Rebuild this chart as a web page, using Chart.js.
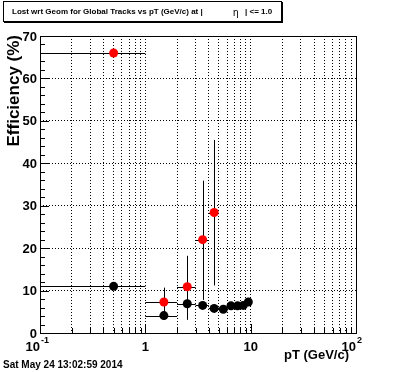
<!DOCTYPE html>
<html>
<head>
<meta charset="utf-8">
<script src="https://cdn.jsdelivr.net/npm/chart.js@4.4.1/dist/chart.umd.min.js"></script>
<style>
  html, body { margin: 0; padding: 0; background: #fff; }
  #wrap { width: 396px; height: 372px; position: relative; }
</style>
</head>
<body>
<div id="wrap"><canvas id="chart" width="396" height="372"></canvas></div>
<script>
// bins in pT (GeV/c)
const binLow = [0, 1, 2, 3, 4, 5, 6, 7, 8, 9];
const binHigh = [1, 2, 3, 4, 5, 6, 7, 8, 9, 10];
const binCenter = [0.5, 1.5, 2.5, 3.5, 4.5, 5.5, 6.5, 7.5, 8.5, 9.5];

// red series (first 5 bins)
const redValues = [66.0, 7.3, 10.9, 22.0, 28.4];
const redErrLow = [66.0, 3.1, 3.1, 7.8, 11.2];
const redErrHigh = [66.0, 10.7, 18.2, 35.9, 45.5];

// black series
const blackValues = [11.0, 4.1, 6.9, 6.5, 5.8, 5.6, 6.4, 6.4, 6.5, 7.3];

const yTicks = [0, 10, 20, 30, 40, 50, 60, 70];
const xDecades = [0.1, 1, 10, 100];

const FONT = '"Liberation Sans", Arial, Helvetica, sans-serif';

function makePoints(vals) {
    return vals.map((v, i) => ({ x: binCenter[i], y: v, i: i }));
}

// error bars + frame + ticks + labels
const rootStyle = {
    id: 'rootStyle',
    beforeDatasetsDraw(chart) {
        const ctx = chart.ctx;
        const xs = chart.scales.x, ys = chart.scales.y;
        const ca = chart.chartArea;
        ctx.save();
        ctx.strokeStyle = '#000';
        ctx.lineWidth = 1;
        const clampX = v => Math.max(ca.left, Math.min(ca.right, v <= 0 ? ca.left : xs.getPixelForValue(v)));
        // black bars
        blackValues.forEach((v, i) => {
            const y = Math.round(ys.getPixelForValue(v)) + 0.5;
            ctx.beginPath();
            ctx.moveTo(clampX(binLow[i]), y);
            ctx.lineTo(clampX(binHigh[i]), y);
            ctx.stroke();
        });
        // red bars
        redValues.forEach((v, i) => {
            const y = Math.round(ys.getPixelForValue(v)) + 0.5;
            const x = Math.round(xs.getPixelForValue(binCenter[i])) + 0.5;
            ctx.beginPath();
            ctx.moveTo(clampX(binLow[i]), y);
            ctx.lineTo(clampX(binHigh[i]), y);
            ctx.moveTo(x, ys.getPixelForValue(redErrLow[i]));
            ctx.lineTo(x, ys.getPixelForValue(redErrHigh[i]));
            ctx.stroke();
        });
        ctx.restore();
    },
    afterDraw(chart) {
        const ctx = chart.ctx;
        const xs = chart.scales.x, ys = chart.scales.y;
        const ca = chart.chartArea;
        ctx.save();
        ctx.strokeStyle = '#000';
        ctx.lineWidth = 1;
        // frame
        ctx.strokeRect(Math.round(ca.left) + 0.5, Math.round(ca.top) + 0.5,
            Math.round(ca.right - ca.left), Math.round(ca.bottom - ca.top));
        // y ticks (major every 10, minor every 2)
        ctx.beginPath();
        for (let v = 0; v <= 70; v += 2) {
            const y = Math.round(ys.getPixelForValue(v)) + 0.5;
            const len = v % 10 === 0 ? 9 : 5;
            ctx.moveTo(ca.left, y);
            ctx.lineTo(ca.left + len, y);
        }
        // x ticks
        for (let d = 0; d < xDecades.length - 1; d++) {
            for (let k = 1; k <= 9; k++) {
                const v = xDecades[d] * k;
                const x = Math.round(xs.getPixelForValue(v)) + 0.5;
                const len = k === 1 ? 9 : 5;
                ctx.moveTo(x, ca.bottom);
                ctx.lineTo(x, ca.bottom - len);
            }
        }
        ctx.stroke();

        // y labels
        ctx.fillStyle = '#000';
        ctx.font = 'bold 13px ' + FONT;
        ctx.textAlign = 'right';
        ctx.textBaseline = 'middle';
        yTicks.forEach(v => ctx.fillText(String(v), ca.left - 3, ys.getPixelForValue(v) + 1));

        // x labels
        const lblY = ca.bottom + 14;
        ctx.textBaseline = 'middle';
        ctx.textAlign = 'center';
        ctx.font = 'bold 13px ' + FONT;
        ctx.fillText('1', xs.getPixelForValue(1), lblY);
        ctx.fillText('10', xs.getPixelForValue(10), lblY);
        // 10^-1 and 10^2 : "10" ends at the tick, exponent right of it
        const drawPow = (v, exp) => {
            const px = xs.getPixelForValue(v);
            ctx.textAlign = 'right';
            ctx.font = 'bold 13px ' + FONT;
            ctx.fillText('10', px, lblY);
            ctx.textAlign = 'left';
            ctx.font = 'bold 9px ' + FONT;
            ctx.fillText(exp, px + 1, lblY - 6);
        };
        drawPow(0.1, '-1');
        drawPow(100, '2');

        // axis titles
        ctx.font = 'bold 13px ' + FONT;
        ctx.textAlign = 'right';
        ctx.textBaseline = 'alphabetic';
        ctx.fillText('pT (GeV/c)', ca.right - 7, ca.bottom + 26);
        ctx.save();
        ctx.translate(19, ca.top - 1);
        ctx.rotate(-Math.PI / 2);
        ctx.font = 'bold 17px ' + FONT;
        ctx.textAlign = 'right';
        ctx.fillText('Efficiency (%)', 0, 0);
        ctx.restore();

        // title box
        ctx.fillStyle = '#fff';
        ctx.fillRect(3, 1, 279, 21);
        ctx.strokeStyle = '#000';
        ctx.lineWidth = 1;
        ctx.strokeRect(3.5, 1.5, 278, 20);
        ctx.fillStyle = '#000';
        ctx.fillRect(4, 21, 279, 2);
        ctx.fillRect(281, 2, 2, 21);
        ctx.font = 'bold 8px ' + FONT;
        ctx.textAlign = 'left';
        ctx.textBaseline = 'middle';
        ctx.fillText('Lost wrt Geom for Global Tracks vs pT (GeV/c) at |', 12, 12);
        ctx.font = '10px ' + FONT;
        ctx.fillText('\u03b7', 233, 13);
        ctx.font = 'bold 8px ' + FONT;
        ctx.fillText('| <= 1.0', 245, 12);

        // date stamp
        ctx.font = 'bold 10px ' + FONT;
        ctx.fillText('Sat May 24 13:02:59 2014', 3, 365);
        ctx.restore();
    }
};

new Chart(document.getElementById('chart'), {
    type: 'scatter',
    data: {
        datasets: [
            {
                label: 'black',
                data: makePoints(blackValues),
                backgroundColor: '#000',
                borderColor: '#000',
                pointRadius: 4.5,
                pointHoverRadius: 4.5,
                borderWidth: 0
            },
            {
                label: 'red',
                data: makePoints(redValues),
                backgroundColor: '#ff0000',
                borderColor: '#ff0000',
                pointRadius: 4.5,
                pointHoverRadius: 4.5,
                borderWidth: 0
            }
        ]
    },
    plugins: [rootStyle],
    options: {
        responsive: false,
        animation: false,
        events: [],
        layout: { padding: { left: 40, right: 40, top: 36, bottom: 39 } },
        plugins: {
            legend: { display: false },
            tooltip: { enabled: false },
            title: { display: false }
        },
        scales: {
            x: {
                type: 'logarithmic',
                min: 0.1,
                max: 100,
                afterBuildTicks(scale) {
                    const t = [];
                    for (let d = 0; d < xDecades.length - 1; d++) {
                        for (let k = 1; k <= 9; k++) t.push({ value: xDecades[d] * k });
                    }
                    t.push({ value: 100 });
                    scale.ticks = t;
                },
                ticks: { display: false },
                border: { display: false, dash: [1, 2] },
                grid: { color: '#000', lineWidth: 1, drawTicks: false }
            },
            y: {
                type: 'linear',
                min: 0,
                max: 70,
                ticks: { display: false, stepSize: 10 },
                border: { display: false, dash: [1, 2] },
                grid: { color: '#000', lineWidth: 1, drawTicks: false }
            }
        }
    }
});
</script>
</body>
</html>
